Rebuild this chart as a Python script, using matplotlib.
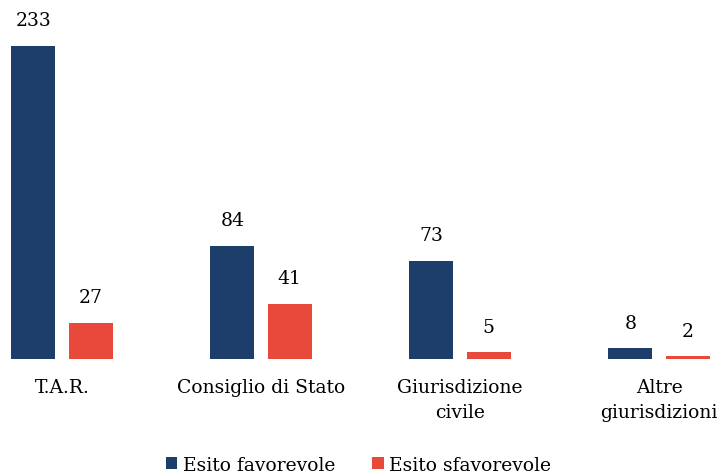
import numpy as np
import matplotlib.pyplot as plt

categorie = ['T.A.R.', 'Consiglio di Stato', 'Giurisdizione\ncivile', 'Altre\ngiurisdizioni']
favorevole = [233, 84, 73, 8]
sfavorevole = [27, 41, 5, 2]

blu = '#1d3d6b'
rosso = '#e8493b'

plt.rcParams['font.family'] = ['DejaVu Serif']

fig = plt.figure(figsize=(7.17, 4.77), dpi=100)
ax = fig.add_axes([0, 1 - 360 / 477, 1, (360 - 47) / 477])

x = np.arange(len(categorie))
w = 0.222
off = 0.144
b1 = ax.bar(x - off, favorevole, w, color=blu, label='Esito favorevole')
b2 = ax.bar(x + off, sfavorevole, w, color=rosso, label='Esito sfavorevole')

for bars in (b1, b2):
    for b in bars:
        ax.annotate(str(int(b.get_height())),
                    (b.get_x() + b.get_width() / 2, b.get_height()),
                    xytext=(0, 12), textcoords='offset points',
                    ha='center', va='bottom', fontsize=13.5, clip_on=False)

ax.set_xlim(-62 / 199, (717 - 62) / 199)
ax.set_ylim(0, 233)
ax.set_xticks(x)
ax.set_xticklabels(categorie, fontsize=13.5, linespacing=1.5)
ax.tick_params(axis='x', length=0, pad=14)
ax.set_yticks([])
for s in ax.spines.values():
    s.set_visible(False)

fig.legend(handles=[b1, b2], loc='center', bbox_to_anchor=(0.5, 1 - 466 / 477),
           ncol=2, frameon=False, fontsize=13.5, handlelength=0.6, handleheight=0.6,
           handletextpad=0.3, columnspacing=2.0)

fig.savefig('out.png', dpi=100)
